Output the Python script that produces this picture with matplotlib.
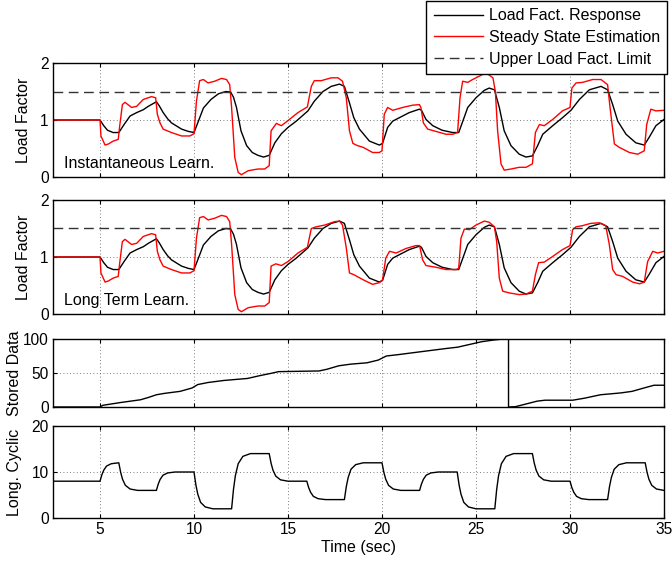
import matplotlib
matplotlib.use("Agg")
import matplotlib.pyplot as plt
from matplotlib.lines import Line2D

plt.rcParams['font.family'] = ['Liberation Sans', 'DejaVu Sans']
plt.rcParams['font.size'] = 11.5

# ---- load factor response (black), same in both learning cases ----
resp_t = [2.5, 5.0, 5.2, 5.4, 5.7, 6.0, 6.3, 6.6, 6.95, 7.3, 7.57, 8.0, 8.15, 8.36, 8.6, 8.8, 9.34, 9.7, 10.0,
          10.2, 10.5, 10.9, 11.3, 11.7, 11.95, 12.1, 12.26, 12.5, 12.8, 13.1, 13.4, 13.7, 14.0,
          14.3, 14.65, 15.0, 15.44, 16.06, 16.4, 16.86, 17.3, 17.74, 18.0, 18.27, 18.5, 18.8, 19.33, 19.86, 20.03,
          20.3, 20.57, 20.92, 21.45, 21.99, 22.1, 22.34, 22.7, 23.2, 23.76, 24.08,
          24.3, 24.56, 25.0, 25.44, 25.7, 25.98, 26.24, 26.5, 26.86, 27.3, 27.66, 28.0,
          28.28, 28.55, 29.08, 29.6, 30.05, 30.5, 31.03, 31.65, 32.0, 32.27, 32.54, 32.98, 33.5, 33.95,
          34.2, 34.57, 35.0]
resp_v = [1.0, 1.0, 0.9, 0.82, 0.78, 0.78, 0.93, 1.07, 1.13, 1.18, 1.24, 1.32, 1.25, 1.13, 1.02, 0.95, 0.84, 0.8, 0.78,
          0.95, 1.21, 1.36, 1.46, 1.5, 1.49, 1.4, 1.22, 0.81, 0.55, 0.43, 0.38, 0.35, 0.38,
          0.6, 0.76, 0.87, 0.98, 1.16, 1.33, 1.5, 1.59, 1.63, 1.59, 1.3, 1.04, 0.84, 0.63, 0.56, 0.59,
          0.87, 0.98, 1.04, 1.13, 1.19, 1.17, 1.01, 0.9, 0.82, 0.78, 0.78,
          0.98, 1.22, 1.39, 1.52, 1.56, 1.53, 1.22, 0.81, 0.55, 0.4, 0.35, 0.37,
          0.55, 0.75, 0.9, 1.04, 1.17, 1.36, 1.53, 1.59, 1.53, 1.27, 0.98, 0.75, 0.6, 0.56,
          0.69, 0.9, 1.01]

# ---- steady state estimation (red), instantaneous learning ----
est1_t = [2.5, 5.0, 5.05, 5.27, 5.45, 5.7, 5.97, 6.05, 6.19, 6.33, 6.68, 6.95, 7.3, 7.74, 7.96, 8.05, 8.19, 8.36,
          8.8, 9.34, 9.78, 10.0, 10.13, 10.3, 10.5, 10.75, 11.1, 11.46, 11.73, 11.9, 12.0, 12.17, 12.35, 12.52,
          12.88, 13.4, 13.76, 14.0, 14.1, 14.38, 14.65, 15.0, 15.53, 16.03, 16.24, 16.4, 16.77, 17.3, 17.66,
          17.9, 18.1, 18.27, 18.45, 18.7, 19.0, 19.5, 19.86, 20.0, 20.12, 20.3, 20.57, 21.1, 21.63, 21.99,
          22.07, 22.2, 22.43, 22.87, 23.4, 23.76, 24.02, 24.15, 24.29, 24.56, 24.82, 25.18, 25.53, 25.9,
          26.03, 26.15, 26.33, 26.5, 26.86, 27.3, 27.66, 28.0, 28.16, 28.37, 28.63, 29.08, 29.6, 30.0,
          30.1, 30.32, 30.67, 31.2, 31.65, 32.0, 32.13, 32.36, 32.62, 33.16, 33.6, 33.95, 34.08, 34.3,
          34.57, 35.0]
est1_v = [1.0, 1.0, 0.72, 0.56, 0.58, 0.63, 0.66, 0.9, 1.27, 1.31, 1.22, 1.24, 1.36, 1.41, 1.39, 1.1, 0.95, 0.84,
          0.78, 0.72, 0.72, 0.76, 1.33, 1.69, 1.71, 1.65, 1.68, 1.73, 1.71, 1.62, 1.22, 0.34, 0.08, 0.04,
          0.11, 0.14, 0.14, 0.2, 0.81, 0.94, 0.9, 0.99, 1.13, 1.23, 1.59, 1.69, 1.69, 1.74, 1.74,
          1.68, 1.39, 0.81, 0.59, 0.55, 0.52, 0.43, 0.43, 0.46, 1.1, 1.22, 1.17, 1.22, 1.26, 1.27,
          1.22, 0.95, 0.84, 0.8, 0.75, 0.75, 0.78, 1.39, 1.68, 1.66, 1.71, 1.77, 1.83, 1.74,
          1.5, 0.81, 0.23, 0.12, 0.14, 0.17, 0.17, 0.23, 0.78, 0.92, 0.9, 1.01, 1.16, 1.22,
          1.56, 1.65, 1.66, 1.71, 1.71, 1.62, 1.22, 0.58, 0.52, 0.43, 0.4, 0.46, 0.92, 1.19,
          1.16, 1.17]

# ---- steady state estimation (red), long term learning ----
est2_t = [2.5, 5.0, 5.05, 5.27, 5.45, 5.7, 5.97, 6.05, 6.19, 6.33, 6.68, 6.95, 7.3, 7.74, 7.96, 8.05, 8.19, 8.36,
          8.8, 9.34, 9.78, 10.0, 10.13, 10.3, 10.5, 10.75, 11.1, 11.46, 11.73, 11.9, 12.0, 12.17, 12.35, 12.52,
          12.88, 13.4, 13.76, 14.0, 14.1, 14.35, 14.65, 15.0, 15.53, 16.03, 16.24, 16.5, 16.95, 17.48, 17.74,
          17.9, 18.1, 18.27, 18.5, 19.0, 19.5, 19.86, 20.03, 20.2, 20.4, 20.75, 21.28, 21.8, 22.0,
          22.16, 22.34, 22.87, 23.4, 23.94, 24.08, 24.2, 24.38, 24.65, 25.0, 25.44, 25.7, 25.98,
          26.1, 26.24, 26.42, 26.77, 27.3, 27.66, 28.0, 28.16, 28.33, 28.63, 29.08, 29.6, 30.0,
          30.14, 30.32, 30.67, 31.1, 31.56, 31.9, 32.09, 32.27, 32.45, 32.8, 33.33, 33.7, 33.95,
          34.13, 34.4, 34.66, 35.0]
est2_v = [1.0, 1.0, 0.72, 0.56, 0.58, 0.63, 0.66, 0.9, 1.27, 1.31, 1.22, 1.24, 1.36, 1.41, 1.39, 1.1, 0.95, 0.84,
          0.78, 0.72, 0.72, 0.76, 1.33, 1.69, 1.71, 1.65, 1.68, 1.73, 1.71, 1.62, 1.22, 0.34, 0.08, 0.04,
          0.11, 0.14, 0.14, 0.2, 0.84, 0.88, 0.85, 0.92, 1.07, 1.17, 1.5, 1.53, 1.56, 1.62, 1.63,
          1.56, 1.16, 0.72, 0.69, 0.6, 0.52, 0.55, 0.6, 0.98, 1.1, 1.07, 1.15, 1.2, 1.2,
          0.95, 0.85, 0.82, 0.78, 0.78, 0.8, 1.33, 1.49, 1.48, 1.56, 1.63, 1.61, 1.53,
          1.27, 0.63, 0.4, 0.37, 0.34, 0.35, 0.4, 0.69, 0.9, 0.91, 1.01, 1.13, 1.2,
          1.48, 1.53, 1.55, 1.59, 1.6, 1.55, 1.22, 0.78, 0.69, 0.66, 0.56, 0.53, 0.56,
          0.92, 1.1, 1.07, 1.1]

load_limit = 1.5

# ---- stored data count ----
stored_t = [2.5, 5.0, 5.15, 6.1, 7.15, 7.57, 8.0, 8.42, 9.26, 9.9, 10.2, 10.74, 11.58, 12.85, 13.48, 14.1, 14.5,
            16.65, 17.07, 17.7, 18.33, 19.2, 19.8, 20.23, 20.86, 21.7, 22.55, 23.4, 24.03, 24.66, 25.3, 25.93,
            26.46, 26.73, 26.73, 27.1, 27.6, 28.25, 28.67, 30.15, 30.78, 31.62, 32.7, 33.3, 33.94, 34.47, 35.0]
stored_v = [0, 0, 2.5, 6.6, 10.6, 14, 18, 20, 23, 28, 33, 36, 39, 42, 46, 49.5, 52,
            53, 55.5, 60.6, 63, 65, 69, 75, 77, 80, 83, 86, 88, 92, 96, 98.5,
            100, 100, 0, 0.5, 4, 8.6, 10, 10, 13, 18, 20.7, 23, 28, 32, 32]

# ---- longitudinal cyclic input ----
cyc_t = [2.5,
         5.0, 5.1, 5.2, 5.35, 5.6, 6.0,
         6.0, 6.1, 6.2, 6.35, 6.6, 7.0,
         8.0, 8.1, 8.2, 8.35, 8.6, 9.0,
         10.0, 10.1, 10.2, 10.35, 10.6, 11.0,
         12.0, 12.1, 12.2, 12.35, 12.6, 13.0,
         14.0, 14.1, 14.2, 14.35, 14.6, 15.0,
         16.0, 16.1, 16.2, 16.35, 16.6, 17.0,
         18.0, 18.1, 18.2, 18.35, 18.6, 19.0,
         20.0, 20.1, 20.2, 20.35, 20.6, 21.0,
         22.0, 22.1, 22.2, 22.35, 22.6, 23.0,
         24.0, 24.1, 24.2, 24.35, 24.6, 25.0,
         26.0, 26.1, 26.2, 26.35, 26.6, 27.0,
         28.0, 28.1, 28.2, 28.35, 28.6, 29.0,
         30.0, 30.1, 30.2, 30.35, 30.6, 31.0,
         32.0, 32.1, 32.2, 32.35, 32.6, 33.0,
         34.0, 34.1, 34.2, 34.35, 34.6, 35.0]
cyc_v = [8,
         8, 9.4, 10.4, 11.3, 11.8, 12,
         12, 9.9, 8.4, 7.1, 6.3, 6,
         6, 7.4, 8.4, 9.3, 9.8, 10,
         10, 7.2, 5.2, 3.4, 2.4, 2,
         2, 6.2, 9.2, 11.8, 13.4, 14,
         14, 11.9, 10.4, 9.1, 8.3, 8,
         8, 6.6, 5.6, 4.7, 4.2, 4,
         4, 6.8, 8.8, 10.6, 11.6, 12,
         12, 9.9, 8.4, 7.1, 6.3, 6,
         6, 7.4, 8.4, 9.3, 9.8, 10,
         10, 7.2, 5.2, 3.4, 2.4, 2,
         2, 6.2, 9.2, 11.8, 13.4, 14,
         14, 11.9, 10.4, 9.1, 8.3, 8,
         8, 6.6, 5.6, 4.7, 4.2, 4,
         4, 6.8, 8.8, 10.6, 11.6, 12,
         12, 9.9, 8.4, 7.1, 6.3, 6]

xticks = [5, 10, 15, 20, 25, 30, 35]

fig = plt.figure(figsize=(6.72, 5.68), dpi=100)
L, W = 53 / 672, 611 / 672
ax1 = fig.add_axes([L, 1 - 177 / 568, W, 114 / 568])
ax2 = fig.add_axes([L, 1 - 314 / 568, W, 114 / 568])
ax3 = fig.add_axes([L, 1 - 407 / 568, W, 68 / 568])
ax4 = fig.add_axes([L, 1 - 518 / 568, W, 92 / 568])

red = '#ff0000'
for ax, est_t, est_v, txt in [(ax1, est1_t, est1_v, 'Instantaneous Learn.'),
                               (ax2, est2_t, est2_v, 'Long Term Learn.')]:
    ax.plot(resp_t, resp_v, color='k', lw=1.0)
    ax.plot(est_t, est_v, color=red, lw=1.0)
    ax.axhline(load_limit, color='#333333', lw=1.0, dashes=(7, 4))
    ax.set_ylim(0, 2)
    ax.set_yticks([0, 1, 2])
    ax.set_ylabel('Load Factor')
    ax.text(3.1, 0.24, txt, va='center', ha='left')

ax3.plot(stored_t, stored_v, color='k', lw=1.0)
ax3.set_ylim(0, 100)
ax3.set_yticks([0, 50, 100])
ax3.set_ylabel('Stored Data')

ax4.plot(cyc_t, cyc_v, color='k', lw=1.0)
ax4.set_ylim(0, 20)
ax4.set_yticks([0, 10, 20])
ax4.set_ylabel('Long. Cyclic')
ax4.set_xlabel('Time (sec)', labelpad=2)

for ax in [ax1, ax2, ax3, ax4]:
    ax.set_xlim(2.5, 35)
    ax.set_xticks(xticks)
    ax.grid(True, color='#555555', linestyle=(0, (1, 3)), linewidth=0.6)
    ax.tick_params(direction='in', length=3, top=True, right=True, pad=3, labelsize=11.2)
    for s in ax.spines.values():
        s.set_linewidth(1.0)
    if ax is not ax4:
        ax.tick_params(labelbottom=False)

for ax in [ax1, ax2]:
    ax.yaxis.set_label_coords(-0.036, 0.5)
for ax in [ax3, ax4]:
    ax.yaxis.set_label_coords(-0.051, 0.5)

handles = [Line2D([], [], color='k', lw=1.0),
           Line2D([], [], color=red, lw=1.0),
           Line2D([], [], color='#333333', lw=1.0, dashes=(7, 4))]
labels = ['Load Fact. Response', 'Steady State Estimation', 'Upper Load Fact. Limit']
leg = fig.legend(handles, labels, loc='upper right', bbox_to_anchor=(667 / 672, 1 - 1 / 568),
                 fancybox=False, edgecolor='k', framealpha=1, borderaxespad=0,
                 handlelength=3.1, handletextpad=0.35, labelspacing=0.42, borderpad=0.45)
leg.get_frame().set_linewidth(1.0)

fig.savefig('out.png', dpi=100)
